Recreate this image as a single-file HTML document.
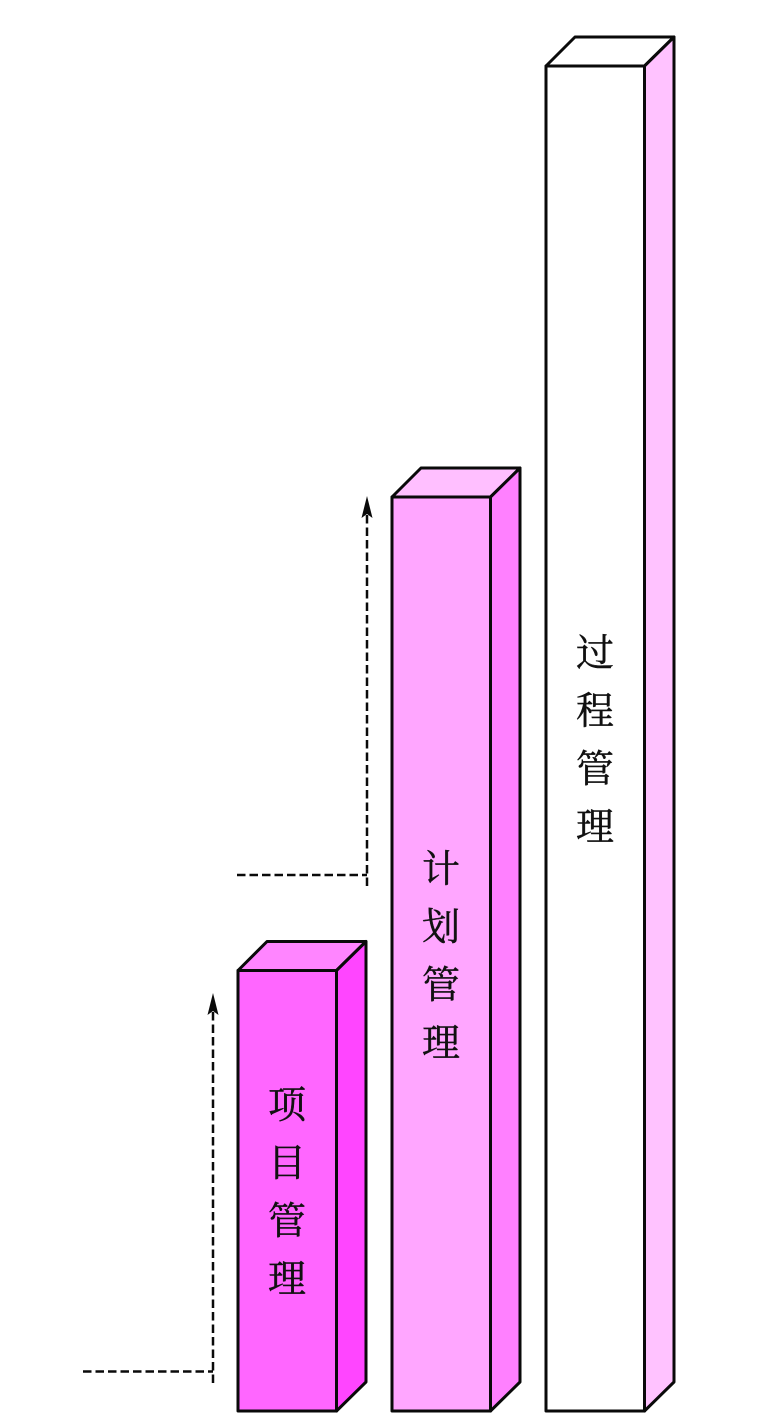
<!DOCTYPE html>
<html lang="zh">
<head>
<meta charset="utf-8">
<title>项目管理 计划管理 过程管理</title>
<style>
html,body{margin:0;padding:0;background:#fff;width:779px;height:1419px;overflow:hidden}
svg{display:block}
text{font-family:"Liberation Serif","Noto Serif CJK SC",serif;font-size:38px;fill:#111;stroke:#111;stroke-width:.45px;text-anchor:middle;dominant-baseline:central}
</style>
</head>
<body>
<svg width="779" height="1419" viewBox="0 0 779 1419" xmlns="http://www.w3.org/2000/svg">
<rect width="779" height="1419" fill="#fff"/>
<g stroke="#0a0a0a" stroke-width="3" stroke-linejoin="round">
  <!-- bar 1 -->
  <polygon points="238,970.500 267,941.500 366,941.500 336.500,970.500" fill="#FF85FF"/>
  <polygon points="336.500,970.500 366,941.500 366,1382 336.500,1411" fill="#FF45FF"/>
  <rect x="238" y="970.500" width="98.500" height="440.500" fill="#FF66FF"/>
  <!-- bar 2 -->
  <polygon points="392,497 421,468 520,468 490.500,497" fill="#FFBFFF"/>
  <polygon points="490.500,497 520,468 520,1382 490.500,1411" fill="#FF80FF"/>
  <rect x="392" y="497" width="98.500" height="914" fill="#FFA6FF"/>
  <!-- bar 3 -->
  <polygon points="546,66 575,37 674,37 644.500,66" fill="#FFFFFF"/>
  <polygon points="644.500,66 674,37 674,1382 644.500,1411" fill="#FFC2FF"/>
  <rect x="546" y="66" width="98.500" height="1345" fill="#FFFFFF"/>
</g>
<!-- dashed connectors -->
<g stroke="#0a0a0a" stroke-width="2.500" fill="none" stroke-dasharray="8.500 4">
  <line x1="83" y1="1371.500" x2="213" y2="1371.500"/>
  <line x1="213" y1="1383" x2="213" y2="1008"/>
  <line x1="237" y1="875" x2="367" y2="875"/>
  <line x1="367" y1="886" x2="367" y2="511"/>
</g>
<polygon points="213,993 218.500,1015 213,1011 207.500,1015" fill="#0a0a0a"/>
<polygon points="367,496 372.500,518 367,514 361.500,518" fill="#0a0a0a"/>
<!-- labels -->
<text x="287" y="1106">项</text>
<text x="287" y="1164">目</text>
<text x="287" y="1222">管</text>
<text x="287" y="1280">理</text>
<text x="441" y="870">计</text>
<text x="441" y="928">划</text>
<text x="441" y="986">管</text>
<text x="441" y="1044">理</text>
<text x="595" y="654">过</text>
<text x="595" y="712">程</text>
<text x="595" y="770">管</text>
<text x="595" y="828">理</text>
</svg>
</body>
</html>
